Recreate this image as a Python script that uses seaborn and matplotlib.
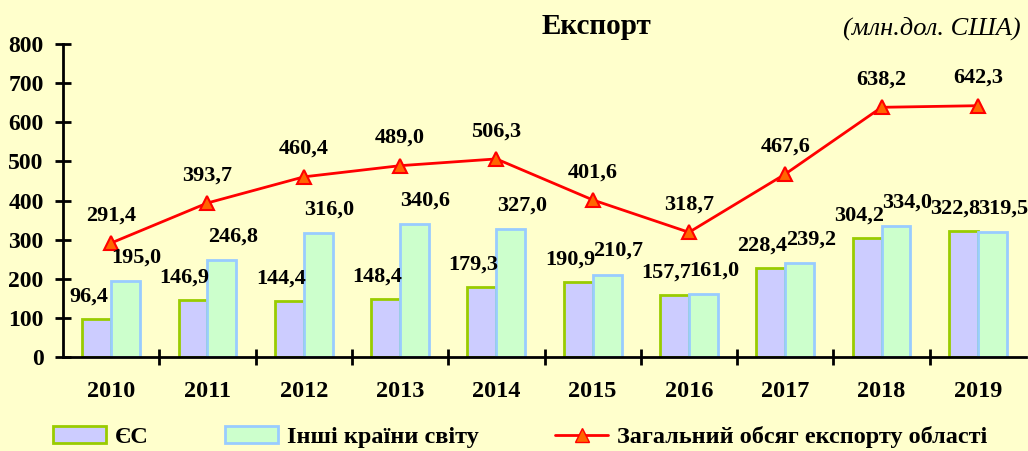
import matplotlib
matplotlib.use("Agg")
import matplotlib.pyplot as plt
import numpy as np
import pandas as pd
import seaborn as sns
from matplotlib.patches import Patch
from matplotlib.lines import Line2D

# Data (млн.дол. США)
years = ['2010', '2011', '2012', '2013', '2014', '2015', '2016', '2017', '2018', '2019']
eu = [96.4, 146.9, 144.4, 148.4, 179.3, 190.9, 157.7, 228.4, 304.2, 322.8]
other = [195.0, 246.8, 316.0, 340.6, 327.0, 210.7, 161.0, 239.2, 334.0, 319.5]
total = [291.4, 393.7, 460.4, 489.0, 506.3, 401.6, 318.7, 467.6, 638.2, 642.3]
series_names = ['ЄС', 'Інші країни світу', 'Загальний обсяг експорту області']

bg = '#FFFFCC'
face_cols = ['#CCCCFF', '#CCFFCC']
edge_cols = ['#99CC00', '#99CCFF']

sns.set_style('white')
plt.rcParams['font.family'] = ['Liberation Serif', 'DejaVu Serif']
plt.rcParams['font.weight'] = 'bold'
plt.rcParams['text.color'] = 'black'
plt.rcParams['xtick.color'] = 'black'
plt.rcParams['ytick.color'] = 'black'

bars = pd.DataFrame({
    'year': years * 2,
    'value': eu + other,
    'series': [series_names[0]] * len(years) + [series_names[1]] * len(years),
})
line = pd.DataFrame({'year': years, 'total': total})

fig = plt.figure(figsize=(10.28, 4.51), dpi=100, facecolor=bg)
ax = fig.add_axes([63 / 1028, 1 - 357 / 451, 963 / 1028, 313 / 451])
ax.set_facecolor(bg)

sns.barplot(data=bars, x='year', y='value', hue='series', palette=face_cols,
            width=0.6, gap=0, legend=False, ax=ax, saturation=1)
for cont, ec in zip(ax.containers, edge_cols):
    for b in cont:
        b.set_edgecolor(ec)
        b.set_linewidth(2)

sns.pointplot(data=line, x='year', y='total', color='red', markers='^',
              linestyles='-', errorbar=None, ax=ax,
              markerfacecolor='#FF6600', markeredgecolor='red',
              markersize=10, markeredgewidth=1.5, linewidth=2)

# value labels
lab_fs = 16
for i, (a, b) in enumerate(zip(eu, other)):
    ax.annotate(f'{a:.1f}'.replace('.', ','), (i - 0.15, a), xytext=(-6, 16),
                textcoords='offset points', ha='center', va='center',
                fontsize=lab_fs, fontweight='bold', color='black')
    ax.annotate(f'{b:.1f}'.replace('.', ','), (i + 0.15, b), xytext=(8, 17),
                textcoords='offset points', ha='center', va='center',
                fontsize=lab_fs, fontweight='bold', color='black')
for i, t in enumerate(total):
    ax.annotate(f'{t:.1f}'.replace('.', ','), (i, t), xytext=(0, 20),
                textcoords='offset points', ha='center', va='center',
                fontsize=lab_fs, fontweight='bold', color='black')

# axes
ax.set_xlim(-0.5, len(years) - 0.5)
ax.set_ylim(0, 800)
ax.set_yticks(np.arange(0, 801, 100))
ax.set_xticks(np.arange(0.5, len(years) - 0.5, 1))
ax.set_xticklabels([])
ax.set_xticks(np.arange(len(years)), minor=True)
ax.set_xticklabels(years, minor=True)
ax.set_xlabel('')
ax.set_ylabel('')
for s in ['top', 'right']:
    ax.spines[s].set_visible(False)
for s in ['left', 'bottom']:
    ax.spines[s].set_color('black')
    ax.spines[s].set_linewidth(2)
ax.tick_params(axis='both', which='major', direction='inout', length=12,
               width=2, color='black', left=True, bottom=True)
ax.tick_params(axis='y', labelsize=17, pad=8, labelcolor='black')
ax.tick_params(axis='x', which='minor', length=0, labelsize=17.5, pad=17,
               labelcolor='black')
for t in ax.get_yticklabels() + ax.get_xticklabels(minor=True):
    t.set_fontweight('bold')

fig.text(596 / 1028, 1 - 27 / 451, 'Експорт', ha='center', va='center',
         fontsize=21, fontweight='bold', color='black')
fig.text(1021 / 1028, 1 - 28 / 451, '(млн.дол. США)', ha='right', va='center',
         fontsize=19, fontstyle='italic', fontweight='normal', color='black')

# legend entries
handles = [
    Patch(facecolor=face_cols[0], edgecolor=edge_cols[0], linewidth=2),
    Patch(facecolor=face_cols[1], edgecolor=edge_cols[1], linewidth=2),
    Line2D([], [], color='red', linewidth=2, marker='^', markersize=10,
           markerfacecolor='#FF6600', markeredgecolor='red'),
]
leg_x = [53 / 1028, 225 / 1028, 555 / 1028]
for h, name, x in zip(handles, series_names, leg_x):
    fig.legend(handles=[h], labels=[name], loc='center left',
               bbox_to_anchor=(x, 1 - 437 / 451), frameon=False,
               prop={'family': 'Liberation Serif', 'weight': 'bold', 'size': 17.5},
               labelcolor='black',
               handlelength=2.2, handleheight=0.7, handletextpad=0.35,
               borderpad=0, borderaxespad=0)

fig.savefig('out.png', dpi=100, facecolor=bg)
